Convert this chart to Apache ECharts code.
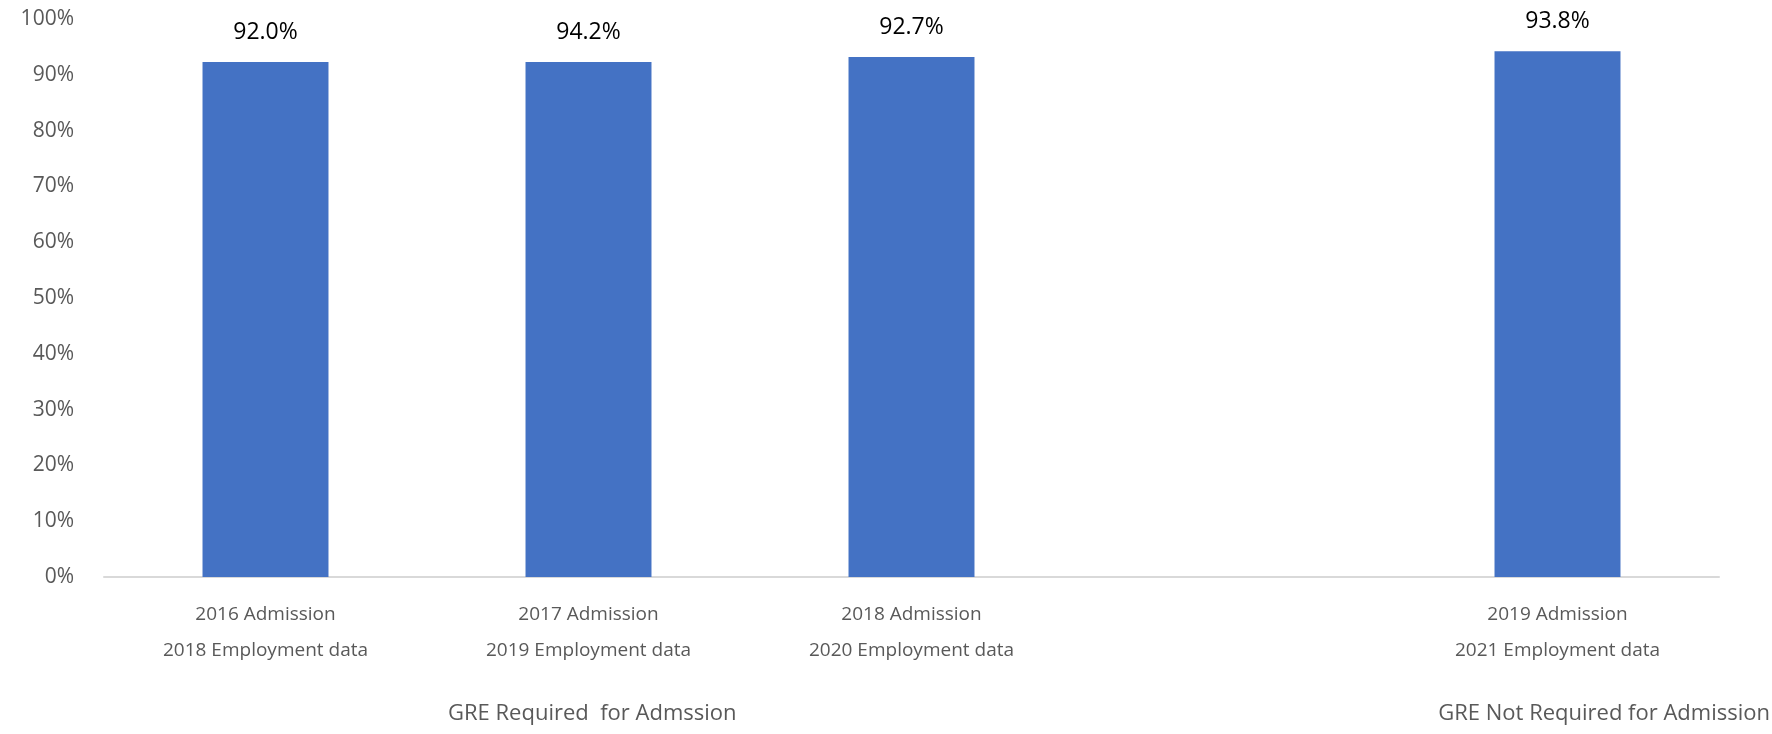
<!DOCTYPE html>
<html><head><meta charset="utf-8">
<script src="https://cdn.jsdelivr.net/npm/echarts@6/dist/echarts.min.js"></script>
<style>html,body{margin:0;padding:0;background:#fff}#c{width:1772px;height:734px}</style>
</head><body><div id="c"></div>
<script>
const categories = ['2016 Admission\n2018 Employment data','2017 Admission\n2019 Employment data','2018 Admission\n2020 Employment data','','2019 Admission\n2021 Employment data'];
const barValues = [92.3, 92.3, 93.2, null, 94.2];
const labelTexts = ['92.0%','94.2%','92.7%','','93.8%'];
const yTicks = [0,10,20,30,40,50,60,70,80,90,100];
const groupLabels = ['GRE Required  for Admssion','GRE Not Required for Admission'];
const font = '"Liberation Sans Narrow","Open Sans",sans-serif';
const chart = echarts.init(document.getElementById('c'));
chart.setOption({
  animation:false,
  grid:{left:104,right:53,top:19,bottom:157},
  xAxis:{type:'category',data:categories,
    axisLine:{lineStyle:{color:'#d9d9d9',width:2}},axisTick:{show:false},
    axisLabel:{color:'#595959',fontSize:19,fontFamily:font,lineHeight:36,margin:20,interval:0}},
  yAxis:{type:'value',min:0,max:100,interval:10,
    axisLabel:{formatter:v=>yTicks.includes(v)?v+'%':'',color:'#595959',fontSize:21,fontFamily:font,margin:30},
    splitLine:{show:false},axisLine:{show:false},axisTick:{show:false}},
  series:[{type:'bar',data:barValues,barWidth:'39%',itemStyle:{color:'#4472c4'},
    label:{show:true,position:'top',distance:18,fontSize:23,fontFamily:font,color:'#000',
      formatter:p=>labelTexts[p.dataIndex]}}],
  graphic:[
    {type:'text',left:598-150,top:703,style:{text:groupLabels[0],fontSize:22,fontFamily:font,fill:'#595959',width:300,align:'center'}},
    {type:'text',right:2,top:703,style:{text:groupLabels[1],fontSize:22,fontFamily:font,fill:'#595959'}}
  ]
});
</script></body></html>
